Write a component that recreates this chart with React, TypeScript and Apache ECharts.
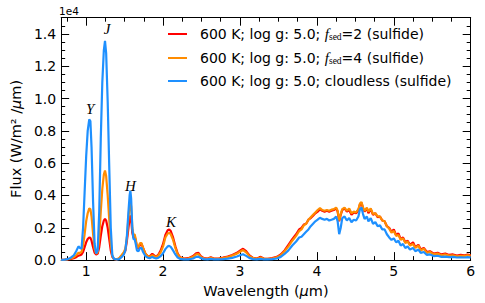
import React, { useEffect, useRef } from "react";
import * as echarts from "echarts";

// Wavelength grid (micron)
const WAVELENGTH = [
  0.675, 0.72, 0.76, 0.8, 0.84, 0.87, 0.9, 0.92, 0.94, 0.96,
  0.98, 1.0, 1.02, 1.04, 1.055, 1.07, 1.09, 1.11, 1.13, 1.15,
  1.17, 1.19, 1.21, 1.23, 1.245, 1.26, 1.28, 1.3, 1.32, 1.34,
  1.36, 1.4, 1.43, 1.46, 1.49, 1.51, 1.53, 1.55, 1.565, 1.575,
  1.585, 1.6, 1.615, 1.63, 1.645, 1.66, 1.68, 1.7, 1.72, 1.74,
  1.77, 1.8, 1.83, 1.86, 1.88, 1.91, 1.94, 1.97, 2.0, 2.03,
  2.06, 2.08, 2.1, 2.13, 2.16, 2.19, 2.22, 2.27, 2.33, 2.39,
  2.43, 2.46, 2.49, 2.53, 2.58, 2.62, 2.66, 2.72, 2.78, 2.84,
  2.9, 2.96, 3.0, 3.04, 3.08, 3.12, 3.17, 3.22, 3.27, 3.31,
  3.36, 3.42, 3.48, 3.53, 3.58, 3.63, 3.68, 3.73, 3.77, 3.8,
  3.83, 3.86, 3.89, 3.92, 3.95, 3.98, 4.01, 4.04, 4.07, 4.1,
  4.13, 4.16, 4.19, 4.22, 4.25, 4.27, 4.29, 4.31, 4.33, 4.36,
  4.39, 4.42, 4.45, 4.48, 4.51, 4.54, 4.56, 4.58, 4.6, 4.62,
  4.65, 4.67, 4.7, 4.73, 4.76, 4.79, 4.82, 4.85, 4.88, 4.91,
  4.94, 4.97, 5.0, 5.03, 5.06, 5.09, 5.12, 5.15, 5.18, 5.21,
  5.25, 5.28, 5.32, 5.35, 5.39, 5.43, 5.47, 5.52, 5.57, 5.62,
  5.67, 5.72, 5.77, 5.82, 5.87, 5.92, 5.96, 6.0,
];

// Flux in units of 1e4 W/m^2/um
const FLUX_FSED2 = [
  0.002, 0.002, 0.004, 0.008, 0.012, 0.018, 0.028, 0.03, 0.035, 0.05,
  0.08, 0.11, 0.13, 0.14, 0.138, 0.12, 0.08, 0.045, 0.035, 0.04,
  0.08, 0.15, 0.21, 0.245, 0.256, 0.245, 0.2, 0.13, 0.06, 0.02,
  0.008, 0.005, 0.01, 0.025, 0.04, 0.06, 0.12, 0.2, 0.26, 0.276,
  0.25, 0.17, 0.14, 0.145, 0.12, 0.08, 0.075, 0.095, 0.1, 0.075,
  0.04, 0.025, 0.025, 0.04, 0.03, 0.02, 0.035, 0.06, 0.1, 0.155,
  0.185, 0.19, 0.18, 0.14, 0.085, 0.04, 0.018, 0.01, 0.012, 0.025,
  0.042, 0.045, 0.025, 0.012, 0.01, 0.018, 0.01, 0.01, 0.015, 0.022,
  0.032, 0.045, 0.058, 0.07, 0.055, 0.03, 0.014, 0.01, 0.02, 0.01,
  0.008, 0.012, 0.02, 0.035, 0.06, 0.095, 0.13, 0.16, 0.19, 0.2,
  0.22, 0.225, 0.25, 0.26, 0.275, 0.29, 0.3, 0.315, 0.305, 0.3,
  0.305, 0.3, 0.305, 0.31, 0.32, 0.3, 0.24, 0.28, 0.31, 0.32,
  0.3, 0.31, 0.28, 0.295, 0.29, 0.31, 0.345, 0.355, 0.32, 0.3,
  0.32, 0.29, 0.315, 0.28, 0.29, 0.265, 0.27, 0.245, 0.24, 0.21,
  0.2, 0.175, 0.19, 0.155, 0.165, 0.13, 0.14, 0.11, 0.12, 0.095,
  0.11, 0.08, 0.095, 0.065, 0.075, 0.05, 0.055, 0.04, 0.045, 0.035,
  0.04, 0.032, 0.035, 0.028, 0.032, 0.03, 0.034, 0.03,
];

const FLUX_FSED4 = [
  0.002, 0.003, 0.005, 0.01, 0.018, 0.03, 0.045, 0.045, 0.05, 0.09,
  0.16, 0.24, 0.29, 0.32, 0.315, 0.27, 0.16, 0.07, 0.04, 0.05,
  0.14, 0.3, 0.44, 0.53, 0.554, 0.52, 0.4, 0.25, 0.1, 0.025,
  0.008, 0.005, 0.012, 0.03, 0.05, 0.07, 0.14, 0.26, 0.34, 0.37,
  0.33, 0.2, 0.155, 0.16, 0.13, 0.085, 0.08, 0.105, 0.105, 0.075,
  0.04, 0.025, 0.02, 0.03, 0.025, 0.018, 0.03, 0.05, 0.085, 0.14,
  0.165, 0.168, 0.16, 0.125, 0.075, 0.035, 0.015, 0.008, 0.01, 0.02,
  0.035, 0.038, 0.02, 0.01, 0.008, 0.015, 0.008, 0.008, 0.012, 0.018,
  0.028, 0.04, 0.052, 0.062, 0.048, 0.026, 0.012, 0.008, 0.016, 0.008,
  0.007, 0.01, 0.017, 0.03, 0.055, 0.085, 0.12, 0.15, 0.18, 0.19,
  0.215, 0.225, 0.25, 0.265, 0.28, 0.295, 0.31, 0.322, 0.31, 0.305,
  0.31, 0.305, 0.312, 0.315, 0.325, 0.305, 0.245, 0.285, 0.315, 0.325,
  0.305, 0.32, 0.29, 0.3, 0.295, 0.315, 0.35, 0.36, 0.325, 0.305,
  0.325, 0.3, 0.32, 0.285, 0.29, 0.27, 0.27, 0.245, 0.24, 0.21,
  0.195, 0.17, 0.18, 0.15, 0.155, 0.125, 0.135, 0.105, 0.115, 0.09,
  0.1, 0.075, 0.09, 0.06, 0.07, 0.045, 0.05, 0.035, 0.04, 0.03,
  0.035, 0.028, 0.03, 0.024, 0.027, 0.026, 0.03, 0.026,
];

const FLUX_CLOUDLESS = [
  0.002, 0.003, 0.006, 0.015, 0.03, 0.055, 0.085, 0.075, 0.07, 0.2,
  0.42, 0.64, 0.8, 0.87, 0.86, 0.7, 0.36, 0.1, 0.04, 0.06,
  0.3, 0.75, 1.1, 1.3, 1.357, 1.28, 0.98, 0.58, 0.2, 0.03,
  0.008, 0.004, 0.006, 0.018, 0.035, 0.06, 0.15, 0.3, 0.4, 0.43,
  0.38, 0.2, 0.13, 0.13, 0.1, 0.06, 0.055, 0.075, 0.075, 0.05,
  0.025, 0.015, 0.012, 0.02, 0.015, 0.01, 0.015, 0.025, 0.042, 0.068,
  0.085, 0.088, 0.082, 0.06, 0.035, 0.016, 0.008, 0.005, 0.005, 0.01,
  0.02, 0.022, 0.012, 0.006, 0.005, 0.008, 0.005, 0.005, 0.006, 0.009,
  0.014, 0.022, 0.03, 0.036, 0.026, 0.014, 0.006, 0.004, 0.008, 0.004,
  0.004, 0.006, 0.01, 0.02, 0.038, 0.06, 0.09, 0.115, 0.14, 0.145,
  0.16, 0.175, 0.19, 0.21, 0.225, 0.24, 0.25, 0.262, 0.255, 0.25,
  0.255, 0.245, 0.25, 0.255, 0.27, 0.24, 0.16, 0.2, 0.26, 0.27,
  0.245, 0.26, 0.235, 0.25, 0.245, 0.27, 0.315, 0.325, 0.285, 0.255,
  0.27, 0.24, 0.26, 0.225, 0.235, 0.21, 0.215, 0.19, 0.19, 0.16,
  0.14, 0.125, 0.135, 0.11, 0.12, 0.09, 0.1, 0.075, 0.085, 0.065,
  0.075, 0.055, 0.065, 0.045, 0.05, 0.032, 0.035, 0.025, 0.027, 0.02,
  0.022, 0.018, 0.02, 0.016, 0.017, 0.016, 0.018, 0.016,
];

const FLUX_SCALE = 1e4;

const SERIES_NAMES = [
  "600 K; log g: 5.0; fsed=2 (sulfide)",
  "600 K; log g: 5.0; fsed=4 (sulfide)",
  "600 K; log g: 5.0; cloudless (sulfide)",
];
const LEGEND_LABELS = [
  "600 K; log g: 5.0; {f|f}{s|sed}=2 (sulfide)",
  "600 K; log g: 5.0; {f|f}{s|sed}=4 (sulfide)",
  "600 K; log g: 5.0; cloudless (sulfide)",
];
const SERIES_COLORS = ["#ff0000", "#ff8c00", "#1e90ff"];

const X_MIN = 0.675;
const X_MAX = 6;
const Y_MIN = 0;
const Y_MAX = 15000;
const X_TICKS = [1, 2, 3, 4, 5, 6];
const X_MINOR = [
  0.75, 1.25, 1.5, 1.75, 2.25, 2.5, 2.75, 3.25, 3.5, 3.75,
  4.25, 4.5, 4.75, 5.25, 5.5, 5.75,
];
const Y_TICKS = [0, 2000, 4000, 6000, 8000, 10000, 12000, 14000];
const Y_MINOR = [
  500, 1000, 1500, 2500, 3000, 3500, 4500, 5000, 5500, 6500, 7000, 7500,
  8500, 9000, 9500, 10500, 11000, 11500, 12500, 13000, 13500, 14500,
];

// Band labels: name, wavelength, flux (label centre)
const BAND_NAMES = ["Y", "J", "H", "K"];
const BAND_X = [1.052, 1.272, 1.575, 2.104];
const BAND_Y = [9350, 14280, 4610, 2360];

const FONT = "DejaVu Sans";
// legend line icon (a thin bar centred in a 19x14 box)
const LEGEND_ICON = "path://M0,6.1h19v1.8H0z M0,0h0.01v0.01H0z M0,14h0.01v0.01H0z";

function xAxisDef(position: string, values: number[], len: number, labels: boolean, line: boolean, extra: any = {}) {
  return {
    type: "value",
    min: X_MIN,
    max: X_MAX,
    position,
    axisLine: { show: line, onZero: false, lineStyle: { color: "#000", width: 1 } },
    axisTick: { show: true, inside: true, length: len, customValues: values, lineStyle: { color: "#000", width: 1 } },
    axisLabel: labels
      ? { show: true, customValues: values, color: "#000", fontSize: 14, fontFamily: FONT, margin: 4 }
      : { show: false },
    splitLine: { show: false },
    ...extra,
  };
}

function yAxisDef(position: string, values: number[], len: number, labels: boolean, line: boolean, extra: any = {}) {
  return {
    type: "value",
    min: Y_MIN,
    max: Y_MAX,
    position,
    axisLine: { show: line, onZero: false, lineStyle: { color: "#000", width: 1 } },
    axisTick: { show: true, inside: true, length: len, customValues: values, lineStyle: { color: "#000", width: 1 } },
    axisLabel: labels
      ? {
          show: true,
          customValues: values,
          color: "#000",
          fontSize: 14,
          fontFamily: FONT,
          margin: 5,
          formatter: (v: number) => (v / FLUX_SCALE).toFixed(1),
        }
      : { show: false },
    splitLine: { show: false },
    ...extra,
  };
}

export default function App() {
  const ref = useRef<HTMLDivElement>(null);
  useEffect(() => {
    if (!ref.current) return;
    const chart = echarts.init(ref.current, null, { renderer: "svg" });
    const fluxSets = [FLUX_FSED2, FLUX_FSED4, FLUX_CLOUDLESS];
    const lineSeries = fluxSets.map((flux, k) => ({
      name: SERIES_NAMES[k],
      type: "line",
      xAxisIndex: 0,
      yAxisIndex: 0,
      symbol: "none",
      showSymbol: false,
      color: SERIES_COLORS[k],
      lineStyle: { width: 2.2, color: SERIES_COLORS[k] },
      data: WAVELENGTH.map((w, i) => [w, flux[i] * FLUX_SCALE]),
      z: 2 + k,
    }));
    const oneE4 = {
      type: "text",
      left: 59,
      top: 5,
      style: { text: "1e4", font: `10.5px "${FONT}"`, fill: "#000" },
    };
    chart.setOption({
      animation: false,
      backgroundColor: "#fff",
      grid: { left: 60, right: 14.3, top: 17.7, bottom: 39.3, containLabel: false },
      legend: {
        data: SERIES_NAMES.map((n) => ({ name: n, icon: LEGEND_ICON })),
        orient: "vertical",
        left: 168,
        top: 26,
        itemWidth: 19,
        itemHeight: 14,
        itemGap: 8,
        padding: 0,
        formatter: (name: string) => LEGEND_LABELS[SERIES_NAMES.indexOf(name)],
        textStyle: {
          fontFamily: FONT,
          fontSize: 14,
          lineHeight: 14,
          color: "#000",
          padding: [0, 0, 0, 8],
          rich: {
            f: { fontFamily: "Liberation Serif", fontStyle: "italic", fontSize: 15, lineHeight: 14, color: "#000" },
            s: { fontFamily: "Liberation Serif", fontSize: 9.5, lineHeight: 14, color: "#000", padding: [6, 0, 0, 0] },
          },
        },
      },
      xAxis: [
        xAxisDef("bottom", X_TICKS, 8, true, true, {
          name: "Wavelength ({mu|μ}m)",
          nameLocation: "middle",
          nameGap: 13,
          nameTextStyle: {
            fontFamily: FONT,
            fontSize: 14.5,
            color: "#000",
            rich: { mu: { fontFamily: FONT, fontStyle: "italic", fontSize: 14.5, color: "#000" } },
          },
        }),
        xAxisDef("top", X_TICKS, 8, false, true),
        xAxisDef("bottom", X_MINOR, 4, false, false),
        xAxisDef("top", X_MINOR, 4, false, false),
      ],
      yAxis: [
        yAxisDef("left", Y_TICKS, 8, true, true, {
          name: "Flux (W/m² /{mu|μ}m)",
          nameLocation: "middle",
          nameGap: 26,
          nameTextStyle: {
            fontFamily: FONT,
            fontSize: 14.5,
            color: "#000",
            rich: { mu: { fontFamily: FONT, fontStyle: "italic", fontSize: 14.5, color: "#000" } },
          },
        }),
        yAxisDef("right", Y_TICKS, 8, false, true),
        yAxisDef("left", Y_MINOR, 4, false, false),
        yAxisDef("right", Y_MINOR, 4, false, false),
      ],
      graphic: [oneE4],
      series: lineSeries,
    });
    // Band labels placed at data coordinates through the axes
    const bandTexts = BAND_NAMES.map((n, i) => {
      const p = chart.convertToPixel({ gridIndex: 0 }, [BAND_X[i], BAND_Y[i]]) as number[];
      return {
        type: "text",
        x: p[0],
        y: p[1],
        z: 10,
        style: {
          text: n,
          font: 'italic 15px "Liberation Serif"',
          fill: "#000",
          align: "center",
          verticalAlign: "middle",
        },
      };
    });
    chart.setOption({ graphic: [oneE4, ...bandTexts] });
    return () => chart.dispose();
  }, []);
  return (
    <div
      ref={ref}
      style={{ position: "fixed", left: 0, top: 0, width: 485, height: 303, background: "#fff" }}
    />
  );
}
